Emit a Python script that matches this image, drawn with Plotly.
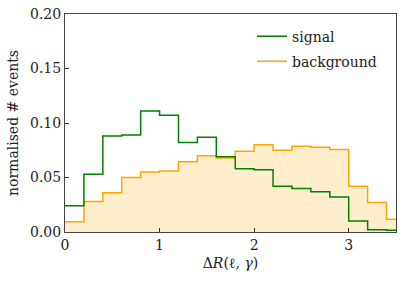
import plotly.graph_objects as go

# Bin edges (ΔR) and normalised histogram contents
bin_edges = [0.0, 0.2, 0.4, 0.6, 0.8, 1.0, 1.2, 1.4, 1.6, 1.8, 2.0,
             2.2, 2.4, 2.6, 2.8, 3.0, 3.2, 3.4, 3.6]
signal = [0.024, 0.053, 0.088, 0.089, 0.111, 0.107, 0.082, 0.087, 0.069,
          0.058, 0.057, 0.042, 0.040, 0.037, 0.032, 0.010, 0.002, 0.0015]
background = [0.0095, 0.028, 0.036, 0.050, 0.055, 0.056, 0.0645, 0.070, 0.068,
              0.074, 0.080, 0.075, 0.0786, 0.0777, 0.0756, 0.042, 0.027, 0.0117]
x_ticks = [0, 1, 2, 3]
y_ticks = [0.00, 0.05, 0.10, 0.15, 0.20]

FONT = "DejaVu Serif"
f14 = dict(family=FONT, size=14, color="#222")

fig = go.Figure()

# background fill (no legend entry) + its outline
fig.add_trace(go.Scatter(
    x=bin_edges, y=background + [background[-1]],
    mode="lines", line=dict(shape="hv", color="rgba(0,0,0,0)", width=0),
    fill="tozeroy", fillcolor="rgba(255,165,0,0.2)",
    showlegend=False, hoverinfo="skip",
))
fig.add_trace(go.Scatter(
    x=bin_edges, y=background + [background[-1]],
    mode="lines", line=dict(shape="hv", color="#FFA500", width=1.5),
    name="background", legendgroup="b", legendrank=2,
))
fig.add_trace(go.Scatter(
    x=bin_edges, y=signal + [signal[-1]],
    mode="lines", line=dict(shape="hv", color="#008000", width=1.5),
    name="signal", legendgroup="s", legendrank=1,
))

fig.update_layout(
    width=407, height=284,
    margin=dict(l=65, r=11, t=14, b=52),
    paper_bgcolor="white", plot_bgcolor="white",
    font=f14,
    showlegend=True,
    legend=dict(x=0.565, y=0.97, xanchor="left", yanchor="top",
                bgcolor="rgba(0,0,0,0)", tracegroupgap=4, font=f14),
    xaxis=dict(
        range=[0, 3.5], tickvals=x_ticks, ticktext=[str(t) for t in x_ticks],
        ticks="inside", ticklen=4, tickcolor="#333", showgrid=False, tickfont=f14,
        zeroline=False, showline=True, mirror=True, linecolor="#444", linewidth=1,
        automargin=False, ticklabeloverflow="allow",
        title=dict(text="Δ<i>R</i>(ℓ, <i>γ</i>)", standoff=6, font=f14),
    ),
    yaxis=dict(
        range=[0, 0.2], tickvals=y_ticks, ticktext=[f"{t:.2f}" for t in y_ticks],
        ticks="inside", ticklen=4, tickcolor="#333", showgrid=False, tickfont=f14,
        zeroline=False, showline=True, mirror=True, linecolor="#444", linewidth=1,
        automargin=False, ticklabeloverflow="allow",
        title=dict(text="normalised # events", standoff=8, font=f14),
    ),
)

fig.write_html("out.html", config={"displayModeBar": False},
               post_script="document.body.style.margin='0px';")
